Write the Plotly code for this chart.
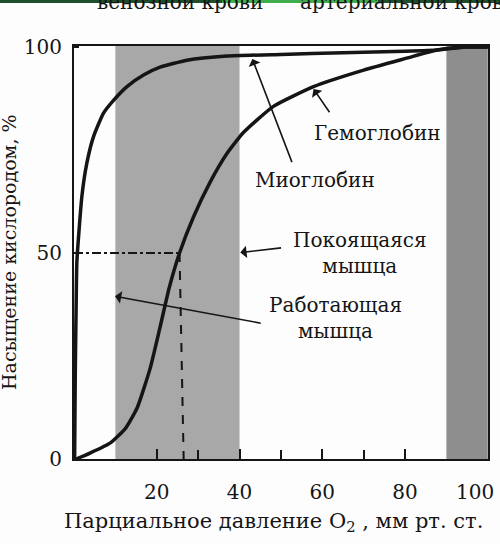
import plotly.graph_objects as go

# ---- data ----
mb_p = [0.15, 0.3, 0.5, 0.7, 1.9, 3.1, 4.7, 7.1, 9.6, 12.8, 16.8, 20.8, 27.3, 37, 50, 65, 80, 88, 94.6, 100]
mb_s = [0, 20, 36, 48, 63.7, 71.8, 78.2, 83.9, 87.1, 90.4, 93.2, 95.1, 96.8, 97.8, 98.2, 98.6, 99.0, 99.3, 100, 100]

hb_p = [0.5, 4, 8.8, 12.5, 15.3, 18.4, 20.8, 23, 25.5, 28.9, 32.9, 37, 41, 48.2, 57.9, 70, 80.4, 87.7, 94.6, 100]
hb_s = [0, 1.5, 3.9, 7.5, 12.5, 22, 32, 41.5, 50, 58.8, 67.2, 74.2, 79.3, 85.6, 90.4, 94.4, 97.3, 99.3, 100, 100]

half_p = [0, 25.5]
half_s = [50, 50]
drop_p = [25.5, 26.5]
drop_s = [50, 0]

venous_band = [10, 40]
arterial_band = [90, 100]

x_ticks = [20, 40, 60, 80, 100]
x_tick_text = ["20", "40", "60", "80", "100\u2007\u2007"]
x_minor = [30, 50, 70]
y_ticks = [0, 50, 100]

FONT = "DejaVu Serif"
INK = "#151515"
L, T, W, H = 74, 46, 414, 413

fig = go.Figure()
fig.add_trace(go.Scatter(x=half_p, y=half_s, mode="lines",
                         line=dict(color=INK, width=2, dash="dashdot"), hoverinfo="skip"))
fig.add_trace(go.Scatter(x=drop_p, y=drop_s, mode="lines",
                         line=dict(color=INK, width=2, dash="dash"), hoverinfo="skip"))
fig.add_trace(go.Scatter(x=mb_p, y=mb_s, mode="lines", name="Миоглобин",
                         line=dict(color=INK, width=3.5, shape="spline", smoothing=0.5)))
fig.add_trace(go.Scatter(x=hb_p, y=hb_s, mode="lines", name="Гемоглобин",
                         line=dict(color=INK, width=3.5, shape="spline", smoothing=0.5)))

fig.add_vrect(x0=venous_band[0], x1=venous_band[1], fillcolor="#a8a8a8", line_width=0, layer="below")
fig.add_vrect(x0=arterial_band[0], x1=arterial_band[1], fillcolor="#8e8e8e", line_width=0, layer="below")


def px(xp, yp):
    return (xp - L) / W, ((T + H) - yp) / H


# top green strip (screenshot artifact)
for x0, x1, c in [(0, 222, "#1e4f2b"), (222, 378, "#3fae4c"), (378, 500, "#1e4f2b")]:
    a, _ = px(x0, 0)
    b, _ = px(x1, 0)
    fig.add_shape(type="rect", xref="paper", yref="paper", x0=a, x1=b,
                  y0=px(0, 3)[1], y1=px(0, -1)[1], fillcolor=c, line_width=0)


def label(text, xy, size=19, **kw):
    xp, yp = px(*xy)
    fig.add_annotation(text=text, xref="paper", yref="paper", x=xp, y=yp,
                       xanchor="center", yanchor="middle", showarrow=False,
                       font=dict(family=FONT, size=size, color=INK), **kw)


label("Гемоглобин", (377, 133), size=20)
label("Миоглобин", (315, 180), size=20)
label("Покоящаяся<br>мышца", (360, 253), size=20)
label("Работающая<br>мышца", (335, 318), size=20)
label("венозной крови", (180, 2), size=20)
label("артериальной крови", (408, 2), size=20)
label("Парциальное давление O<sub>2</sub> , мм рт. ст.", (273, 522), size=21)
label("Насыщение кислородом, %", (9, 252), size=19, textangle=-90)


def arrow(tip, tail):
    fig.add_annotation(x=tip[0], y=tip[1], ax=tail[0], ay=tail[1], xref="x", yref="y",
                       axref="x", ayref="y", text="", showarrow=True, arrowhead=1,
                       arrowsize=1.3, arrowwidth=1.6, arrowcolor=INK)


arrow((57.9, 89.8), (62, 83.8))
arrow((43.1, 97.1), (52.8, 71.7))
arrow((40.2, 50.1), (50.4, 51.3))
arrow((9.9, 39.5), (45.5, 32.9))
arrow((22.5, 100.4), (22.5, 107.5))
arrow((94.7, 100.4), (94.7, 106.8))

fig.update_xaxes(range=[0, 100.05], tickvals=x_ticks, ticktext=x_tick_text, ticks="inside",
                 ticklen=10, tickwidth=1.5,
                 tickcolor=INK, showline=True, linecolor=INK, linewidth=2, mirror=True,
                 showgrid=False, zeroline=False, ticklabelstandoff=14, ticklabeloverflow="allow",
                 automargin=False,
                 minor=dict(tickvals=x_minor, ticks="inside", ticklen=9, tickwidth=1.5, tickcolor=INK),
                 tickfont=dict(family=FONT, size=20, color=INK))
fig.update_yaxes(range=[0, 100.25], tickvals=y_ticks, ticks="inside", ticklen=5, tickwidth=1.5,
                 tickcolor=INK, showline=True, linecolor=INK, linewidth=2, mirror=True,
                 showgrid=False, zeroline=False, ticklabelstandoff=6, automargin=False,
                 tickfont=dict(family=FONT, size=20, color=INK))

fig.update_layout(width=500, height=544, margin=dict(l=L, r=500 - L - W, t=T, b=544 - T - H),
                  paper_bgcolor="#fdfdfd", plot_bgcolor="#fdfdfd", showlegend=False)

fig.write_html("out.html")
